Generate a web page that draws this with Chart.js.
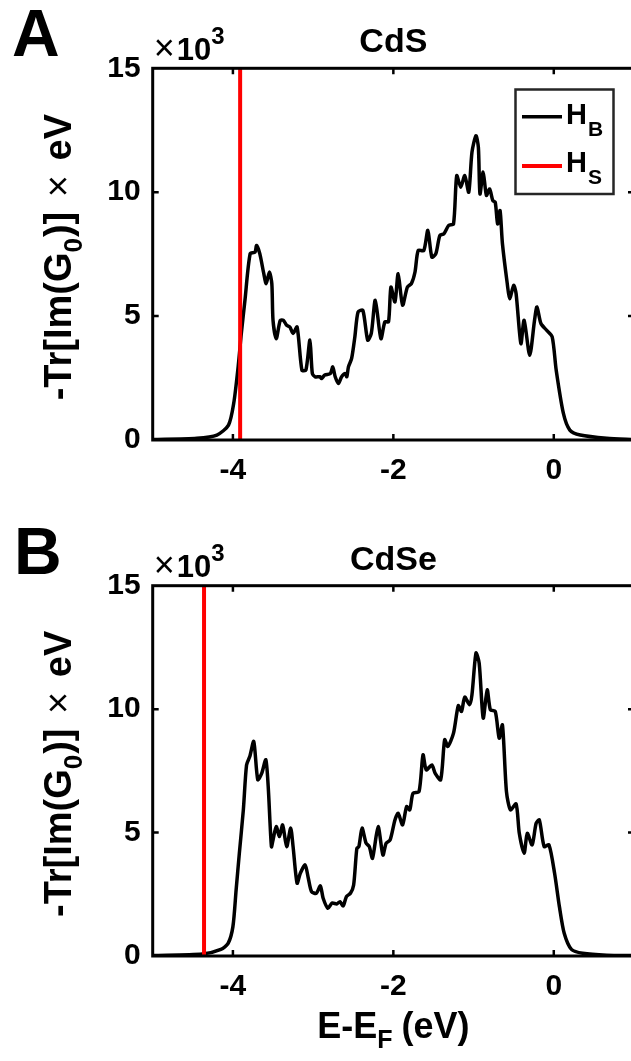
<!DOCTYPE html>
<html><head><meta charset="utf-8">
<style>
html,body{margin:0;padding:0;background:#fff;overflow:hidden;width:631px;height:1061px;}
.p{position:absolute;left:0;}
</style>
<script src="https://cdn.jsdelivr.net/npm/chart.js@4.4.1/dist/chart.umd.min.js"></script>
</head><body>
<div class="p" style="top:0px"><canvas id="ca" width="640" height="520"></canvas></div>
<div class="p" style="top:520px"><canvas id="cb" width="640" height="541"></canvas></div>
<script>
// ---- data (DOS in units of 10^3) ----
const xTicks = [-4, -2, 0];
const yTicks = [0, 5, 10, 15];
const titles = ["CdS", "CdSe"];
const letters = ["A", "B"];
const surfaceA = -3.91;
const surfaceB = -4.36;

const energyA = [-5.0,-4.45,-4.2,-4.055,-3.99,-3.935,-3.895,-3.85,-3.785,-3.725,-3.705,-3.665,-3.615,-3.585,-3.545,-3.515,-3.5,-3.46,-3.41,-3.37,-3.33,-3.29,-3.25,-3.2,-3.14,-3.09,-3.04,-3.01,-2.975,-2.915,-2.895,-2.855,-2.785,-2.755,-2.725,-2.685,-2.645,-2.6,-2.58,-2.56,-2.52,-2.48,-2.44,-2.38,-2.32,-2.275,-2.225,-2.155,-2.105,-2.06,-2.03,-1.98,-1.94,-1.885,-1.825,-1.775,-1.73,-1.69,-1.62,-1.57,-1.52,-1.47,-1.42,-1.37,-1.31,-1.25,-1.21,-1.16,-1.11,-1.06,-1.02,-0.97,-0.94,-0.92,-0.88,-0.84,-0.80,-0.76,-0.73,-0.70,-0.67,-0.64,-0.58,-0.55,-0.50,-0.47,-0.41,-0.37,-0.30,-0.24,-0.21,-0.16,-0.09,-0.02,0.03,0.12,0.20,0.33,0.66,1.0];
const dosA = [0.02,0.07,0.2,0.6,1.48,2.95,4.3,5.64,7.52,7.58,7.85,7.52,6.71,6.31,6.78,6.31,4.83,4.09,4.83,4.83,4.63,4.56,4.30,4.56,2.82,2.82,4.03,2.68,2.55,2.55,2.48,2.62,2.68,2.95,2.55,2.28,2.55,2.68,2.55,2.95,3.29,4.16,5.17,5.23,4.03,4.30,5.64,4.09,4.77,4.77,6.17,5.57,6.71,5.44,6.17,6.31,6.78,7.65,7.65,8.46,7.38,7.52,8.26,8.32,8.66,8.72,10.67,10.2,10.67,10.0,11.61,12.28,11.81,9.93,10.81,9.87,10.13,9.66,9.6,8.72,9.26,7.92,6.31,5.70,6.24,5.91,3.89,4.83,3.42,4.83,5.37,4.70,4.43,4.16,2.82,1.07,0.40,0.2,0.07,0.02];

const energyB = [-5.0,-4.38,-4.15,-4.06,-4.0,-3.96,-3.92,-3.87,-3.83,-3.79,-3.74,-3.69,-3.64,-3.59,-3.56,-3.52,-3.50,-3.46,-3.42,-3.38,-3.33,-3.28,-3.25,-3.20,-3.16,-3.10,-3.06,-3.02,-2.96,-2.91,-2.875,-2.815,-2.765,-2.705,-2.665,-2.625,-2.585,-2.535,-2.495,-2.455,-2.43,-2.39,-2.34,-2.30,-2.26,-2.19,-2.13,-2.09,-2.04,-1.98,-1.94,-1.885,-1.835,-1.795,-1.755,-1.68,-1.63,-1.59,-1.52,-1.48,-1.41,-1.36,-1.32,-1.25,-1.19,-1.15,-1.11,-1.05,-1.02,-0.97,-0.93,-0.88,-0.83,-0.79,-0.73,-0.68,-0.64,-0.59,-0.54,-0.47,-0.43,-0.37,-0.33,-0.27,-0.22,-0.18,-0.12,-0.06,0.01,0.07,0.13,0.22,0.36,0.66,1.0];
const dosB = [0.02,0.08,0.27,0.51,1.19,2.68,4.16,5.92,7.74,8.08,8.69,7.14,7.41,7.95,6.86,4.43,4.70,5.24,4.84,5.31,4.43,5.18,4.43,2.95,3.35,3.69,3.15,2.61,2.54,2.84,2.34,1.93,2.14,2.11,2.20,2.03,2.41,2.54,2.88,4.36,4.43,5.18,4.57,4.43,3.96,5.24,4.09,4.57,4.70,5.51,5.78,5.31,6.05,5.92,6.59,6.66,8.15,7.54,7.74,7.41,7.14,8.76,8.49,9.03,10.14,9.91,10.49,10.18,10.58,12.27,11.86,9.64,10.78,9.97,9.91,8.82,9.36,6.66,5.92,6.16,4.97,4.16,4.97,4.50,5.38,5.51,4.43,4.50,3.35,2.00,0.92,0.27,0.11,0.03,0.02];

const FONT = '"Liberation Sans", Arial, Helvetica, sans-serif';

function pts(xs, ys){ const n=Math.min(xs.length, ys.length); const o=[]; for(let i=0;i<n;i++) o.push({x:xs[i], y:ys[i]}); return o; }

function drawRich(ctx, parts, x, y){
  let cx = x;
  for(const p of parts){
    ctx.font = `${p.w||'bold'} ${p.size}px ${FONT}`;
    ctx.fillText(p.t, cx, y + (p.dy||0));
    cx += ctx.measureText(p.t).width + (p.gap||0);
  }
  return cx - x;
}
function richWidth(ctx, parts){
  let w=0; for(const p of parts){ ctx.font=`${p.w||'bold'} ${p.size}px ${FONT}`; w+=ctx.measureText(p.t).width+(p.gap||0);} return w;
}

function makeDecor(idx){
  return {
    id: 'decor'+idx,
    afterDatasetsDraw(chart){
      const {ctx, chartArea:a, scales:{x, y}} = chart;
      ctx.save();
      ctx.strokeStyle = '#000';
      ctx.lineWidth = 3;
      ctx.lineCap = 'square';
      ctx.strokeRect(a.left, a.top, a.right - a.left, a.bottom - a.top);
      ctx.lineWidth = 2.5; ctx.lineCap='butt';
      ctx.beginPath();
      for(const v of xTicks){
        const px = x.getPixelForValue(v);
        ctx.moveTo(px, a.bottom); ctx.lineTo(px, a.bottom - 6);
        ctx.moveTo(px, a.top); ctx.lineTo(px, a.top + 6);
      }
      for(const v of yTicks){
        if (v===0 || v===15) continue;
        const py = y.getPixelForValue(v);
        ctx.moveTo(a.left, py); ctx.lineTo(a.left + 6, py);
        ctx.moveTo(a.right, py); ctx.lineTo(a.right - 6, py);
      }
      ctx.stroke();

      ctx.fillStyle = '#000';
      ctx.textBaseline = 'alphabetic';
      // title
      ctx.textAlign = 'center';
      ctx.font = `bold 34px ${FONT}`;
      ctx.fillText(titles[idx], (a.left + a.right)/2, a.top - 16);
      // panel letter
      ctx.textAlign = 'left';
      ctx.font = `bold 66px ${FONT}`;
      ctx.fillText(letters[idx], idx===0 ? 12 : 14, a.top - 12);
      // exponent
      drawRich(ctx, [{t:'\u00d7', size:36, w:'normal', gap:2},{t:'10', size:31},{t:'3', size:24, dy:-16}], a.left + 1, a.top - 8.5);

      // y title (rotated)
      const yParts = [{t:'-Tr[Im(G', size:38},{t:'0', size:26, dy:11, gap:1},{t:')] ', size:38, gap:4},{t:'\u00d7', size:38, w:'normal', gap:4},{t:' eV', size:38}];
      ctx.save();
      ctx.translate(71, (a.top + a.bottom)/2 + 3);
      ctx.rotate(-Math.PI/2);
      const w = richWidth(ctx, yParts);
      drawRich(ctx, yParts, -w/2, 0);
      ctx.restore();

      if (idx === 0) {
        // legend box
        ctx.strokeStyle = '#262626';
        ctx.lineWidth = 2.5;
        ctx.strokeRect(515.5, 89.5, 98, 104.5);
        ctx.lineWidth = 3.5; ctx.strokeStyle='#000';
        ctx.beginPath(); ctx.moveTo(522, 116.7); ctx.lineTo(562, 116.7); ctx.stroke();
        ctx.lineWidth = 4; ctx.strokeStyle='#ff0000';
        ctx.beginPath(); ctx.moveTo(522, 166); ctx.lineTo(562, 166); ctx.stroke();
        ctx.fillStyle = '#000';
        drawRich(ctx, [{t:'H', size:29, gap:1},{t:'B', size:21, dy:12}], 566, 124);
        drawRich(ctx, [{t:'H', size:29, gap:1},{t:'S', size:21, dy:12}], 566, 172);
      } else {
        const xParts = [{t:'E-E', size:36},{t:'F', size:25, dy:10, gap:9},{t:'(eV)', size:36}];
        const wx = richWidth(ctx, xParts);
        drawRich(ctx, xParts, (a.left + a.right)/2 - wx/2, a.bottom + 82);
      }
      ctx.restore();
    }
  };
}

function makeChart(id, idx, energy, dos, surf, xHeight, top){
  const ctx = document.getElementById(id);
  return new Chart(ctx, {
    type: 'line',
    data: {
      datasets: [
        {label:'H_B', data: pts(energy, dos), borderColor:'#000', borderWidth:3.5, pointRadius:0, tension:0.25, fill:false, order:2},
        {label:'H_S', data: [{x:surf, y:0},{x:surf, y:15}], borderColor:'#ff0000', borderWidth:4, pointRadius:0, tension:0, fill:false, order:1}
      ]
    },
    options: {
      responsive:false, animation:false, devicePixelRatio:1,
      layout:{padding:{top:top, right:6, left:0, bottom:0}},
      plugins:{legend:{display:false}, tooltip:{enabled:false}},
      scales:{
        x:{type:'linear', min:-5, max:1,
           afterBuildTicks:(s)=>{ s.ticks = xTicks.map(v=>({value:v})); },
           afterFit:(s)=>{ s.height = xHeight; },
           grid:{display:false, drawTicks:false}, border:{display:false},
           ticks:{font:{family:FONT, size:30, weight:'bold'}, color:'#000', padding:13, maxRotation:0, autoSkip:false,
                  callback:(v)=>String(v)}},
        y:{type:'linear', min:0, max:15,
           afterBuildTicks:(s)=>{ s.ticks = yTicks.map(v=>({value:v})); },
           afterFit:(s)=>{ s.width = 152.7; },
           grid:{display:false, drawTicks:false}, border:{display:false},
           ticks:{font:{family:FONT, size:30, weight:'bold'}, color:'#000', padding:12, callback:(v)=>String(v)}}
      }
    },
    plugins:[makeDecor(idx)]
  });
}

makeChart('ca', 0, energyA, dosA, surfaceA, 520-440, 68.3);
makeChart('cb', 1, energyB, dosB, surfaceB, 541-436, 65.7);
</script>
</body></html>
